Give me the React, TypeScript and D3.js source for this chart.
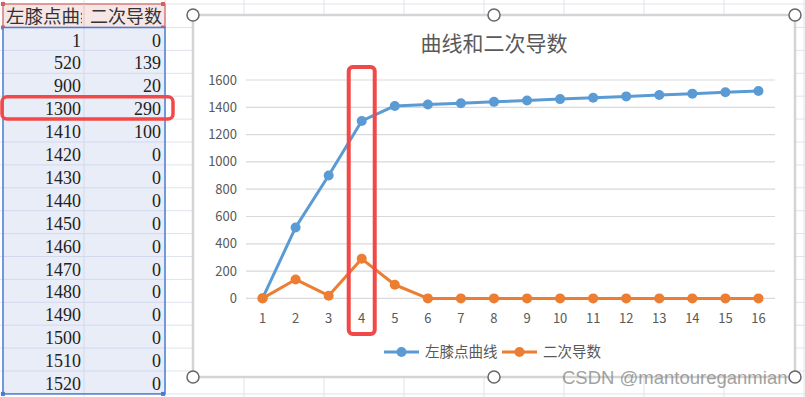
import React from 'react'
import * as d3 from 'd3'

const categories = ['1', '2', '3', '4', '5', '6', '7', '8', '9', '10', '11', '12', '13', '14', '15', '16']
const kneeCurve = [1, 520, 900, 1300, 1410, 1420, 1430, 1440, 1450, 1460, 1470, 1480, 1490, 1500, 1510, 1520]
const secondDeriv = [0, 139, 20, 290, 100, 0, 0, 0, 0, 0, 0, 0, 0, 0, 0, 0]
const yTicks = [0, 200, 400, 600, 800, 1000, 1200, 1400, 1600]
const headers = ['左膝点曲线', '二次导数']
const seriesNames = ['左膝点曲线', '二次导数']
const highlightIndex = 3

const W = 805
const H = 397
const BLUE = '#5b9bd5'
const ORANGE = '#ed7d31'
const RED = '#f24848'
const GRID = '#dfe3ea'
const CJK = '"Noto Sans CJK SC", "Noto Sans", sans-serif'
const SERIF = '"Liberation Serif", "DejaVu Serif", serif'

export default function App() {
  // sheet geometry
  const colEdges = [3, 84, 165, 244, 324, 404, 484, 564, 644, 724, 804]
  const rowTop = 27.5
  const rowH = 22.9
  const row = d3.scaleLinear().domain([0, 1]).range([rowTop, rowTop + rowH])
  const rowLines = d3.range(-1, 17).map(k => (k < 0 ? 4 : row(k)))

  // chart geometry
  const chart = { x0: 193, y0: 15, x1: 795, y1: 377 }
  const x = d3.scaleBand().domain(categories).range([246, 775]).padding(0)
  const cx = (c: string) => (x(c) as number) + x.bandwidth() / 2
  const y = d3.scaleLinear().domain([0, 1600]).range([298.4, 80])

  const line = d3.line<number>()
    .x((_, i) => cx(categories[i]))
    .y(d => y(d))

  const series = [
    { name: seriesNames[0], values: kneeCurve, color: BLUE },
    { name: seriesNames[1], values: secondDeriv, color: ORANGE },
  ]

  const handles = [
    [chart.x0, chart.y0], [(chart.x0 + chart.x1) / 2, chart.y0], [chart.x1, chart.y0],
    [chart.x0, chart.y1], [(chart.x0 + chart.x1) / 2, chart.y1], [chart.x1, chart.y1],
  ]

  const hl = categories[highlightIndex]

  return (
    <svg width={W} height={H} style={{ position: 'fixed', left: 0, top: 0, background: '#fff' }}>
      <defs>
        <clipPath id="hdr1"><rect x={3} y={0} width={79} height={30} /></clipPath>
      </defs>

      {/* worksheet grid */}
      <g stroke={GRID} strokeWidth={1}>
        {rowLines.map((v, i) => <line key={'r' + i} x1={0} x2={W} y1={v} y2={v} />)}
        {colEdges.map((v, i) => <line key={'c' + i} x1={v} x2={v} y1={0} y2={H} />)}
      </g>

      {/* table: header */}
      <rect x={3} y={4} width={162} height={rowTop - 4} fill="#f6e6e6" stroke="#d06262" strokeWidth={1.2} />
      <line x1={84} x2={84} y1={4} y2={rowTop} stroke="#e3c4c4" />
      <text x={6} y={23} fontFamily={CJK} fontSize={18.5} fill="#333" clipPath="url(#hdr1)">{headers[0]}</text>
      <text x={162} y={23} textAnchor="end" fontFamily={CJK} fontSize={18} fill="#333">{headers[1]}</text>
      {[[3, 4], [3, rowTop], [163, 4], [163, rowTop]].map(([a, b], i) => (
        <rect key={i} x={a - 2} y={b - 2} width={4} height={4} fill="#d06262" />
      ))}

      {/* table: data cells */}
      <rect x={3} y={rowTop} width={162} height={rowH * 16} fill="#e9edf8" />
      <g stroke="#d2d9ec" strokeWidth={1}>
        {d3.range(1, 16).map(k => <line key={k} x1={3} x2={165} y1={row(k)} y2={row(k)} />)}
        <line x1={84} x2={84} y1={rowTop} y2={row(16)} />
      </g>
      <rect x={3} y={rowTop} width={162} height={rowH * 16} fill="none" stroke="#4a7bd6" strokeWidth={1.5} />
      {[[3, row(16)], [163, row(16)]].map(([a, b], i) => (
        <rect key={i} x={a - 2} y={b - 2} width={4} height={4} fill="#4a7bd6" />
      ))}
      <g fontFamily={SERIF} fontSize={18} fill="#222" textAnchor="end">
        {kneeCurve.map((v, i) => <text key={'a' + i} x={81} y={row(i) + 19}>{v}</text>)}
        {secondDeriv.map((v, i) => <text key={'b' + i} x={161} y={row(i) + 19}>{v}</text>)}
      </g>
      <rect x={2} y={row(highlightIndex) + 0.5} width={171} height={rowH - 0.5} rx={5}
        fill="none" stroke={RED} strokeWidth={3.5} />

      {/* chart area */}
      <rect x={chart.x0} y={chart.y0} width={chart.x1 - chart.x0} height={chart.y1 - chart.y0}
        fill="#fff" stroke="#d4d4d4" strokeWidth={2.5} />

      <text x={494} y={51} textAnchor="middle" fontFamily={CJK} fontSize={21} fill="#595959">
        曲线和二次导数
      </text>

      {/* gridlines + y labels */}
      <g>
        {yTicks.map(t => (
          <g key={t}>
            <line x1={246} x2={775} y1={y(t)} y2={y(t)} stroke="#d9d9d9" strokeWidth={1.2} />
            <text x={237} y={y(t) + 4.5} textAnchor="end" fontFamily={CJK} fontSize={13} fill="#595959">{t}</text>
          </g>
        ))}
      </g>

      {/* x labels */}
      {categories.map(c => (
        <text key={c} x={cx(c)} y={323} textAnchor="middle" fontFamily={CJK} fontSize={13} fill="#595959">{c}</text>
      ))}

      {/* series */}
      {series.map(s => (
        <g key={s.name}>
          <path d={line(s.values) as string} fill="none" stroke={s.color} strokeWidth={3} strokeLinejoin="round" />
          {s.values.map((v, i) => (
            <circle key={i} cx={cx(categories[i])} cy={y(v)} r={5} fill={s.color} />
          ))}
        </g>
      ))}

      {/* legend */}
      {series.map((s, i) => {
        const lx = i === 0 ? 384 : 502
        return (
          <g key={s.name}>
            <line x1={lx} x2={lx + 35} y1={352} y2={352} stroke={s.color} strokeWidth={3} />
            <circle cx={lx + 17.5} cy={352} r={5} fill={s.color} />
            <text x={lx + 41} y={357} fontFamily={CJK} fontSize={14.5} fill="#595959">{s.name}</text>
          </g>
        )
      })}

      {/* highlight around category 4 */}
      <rect x={cx(hl) - 13} y={67} width={26} height={267} rx={4}
        fill="none" stroke={RED} strokeWidth={4} />

      {/* watermark */}
      <text x={562} y={384} fontFamily='"Liberation Sans", Arial, sans-serif' fontSize={18.5}
        fill="#888" fillOpacity={0.8}>CSDN @mantoureganmian</text>

      {/* selection handles */}
      {handles.map(([a, b], i) => (
        <circle key={i} cx={a} cy={b} r={6} fill="#fff" stroke="#666" strokeWidth={1.5} />
      ))}
    </svg>
  )
}
